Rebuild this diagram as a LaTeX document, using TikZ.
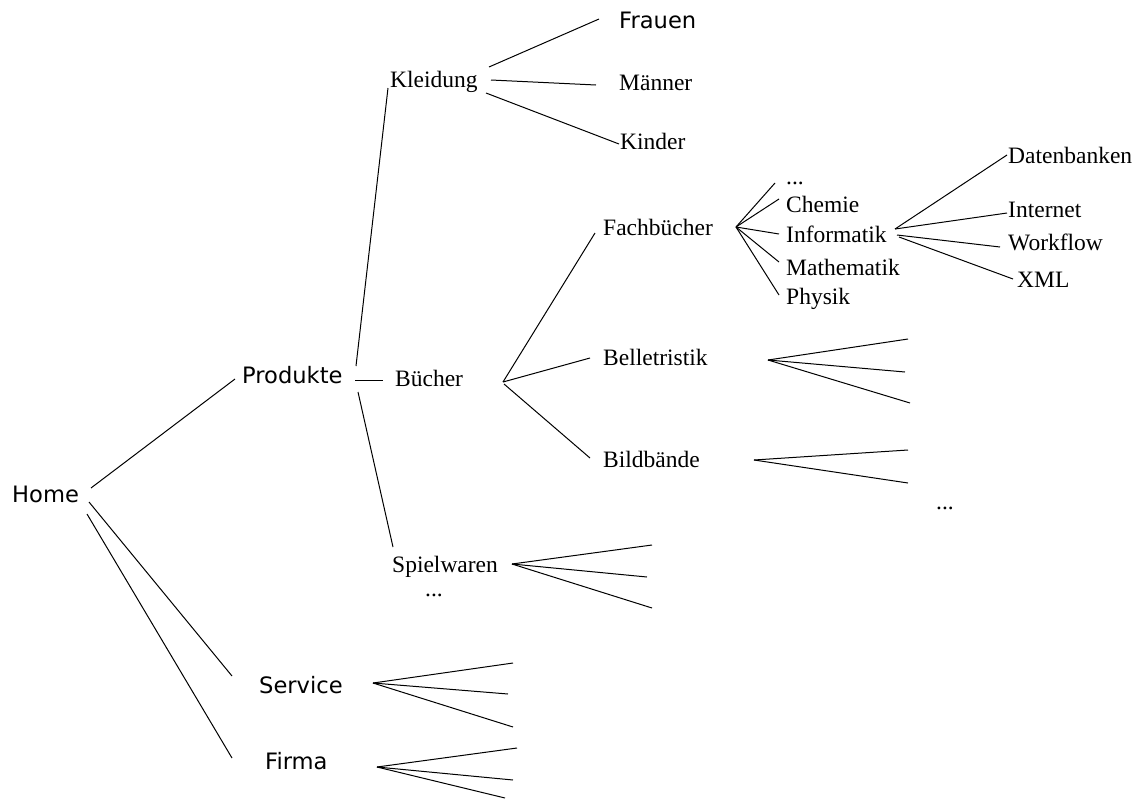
\documentclass[tikz,border=0pt]{standalone}
\usepackage{fontspec}
\setmainfont{Liberation Serif}
\newfontfamily\sansfam{DejaVu Sans}
\begin{document}
\begin{tikzpicture}[x=1pt,y=-1pt,
  lbl/.style={anchor=base west,inner sep=0pt,font=\fontsize{23.5}{28}\selectfont},
  slbl/.style={anchor=base west,inner sep=0pt,font=\sansfam\fontsize{22.6}{27}\selectfont},
  link/.style={line width=1pt,black}]
\useasboundingbox (0,0) rectangle (1141,809);

% --- labels ---
\node[slbl] (home)     at (12,502)  {Home};
\node[slbl] (produkte) at (242,383) {Produkte};
\node[slbl] (service)  at (259,693) {Service};
\node[slbl] (firma)    at (265,769) {Firma};
\node[slbl] (frauen)   at (619,28)  {Frauen};

\node[lbl] (kleidung)  at (390,87)  {Kleidung};
\node[lbl] (maenner)   at (619,90)  {Männer};
\node[lbl] (kinder)    at (620,149) {Kinder};
\node[lbl] (buecher)   at (395,386) {Bücher};
\node[lbl] (fach)      at (603,235) {Fachbücher};
\node[lbl] (fdots)     at (786,184) {...};
\node[lbl] (chemie)    at (786,212) {Chemie};
\node[lbl] (info)      at (786,242) {Informatik};
\node[lbl] (mathe)     at (786,275) {Mathematik};
\node[lbl] (physik)    at (786,304) {Physik};
\node[lbl] (daten)     at (1008,163) {Datenbanken};
\node[lbl] (internet)  at (1008,217) {Internet};
\node[lbl] (workflow)  at (1008,250) {Workflow};
\node[lbl] (xml)       at (1017,287) {XML};
\node[lbl] (belle)     at (603,365) {Belletristik};
\node[lbl] (bild)      at (603,467) {Bildbände};
\node[lbl] (bdots)     at (936,509) {...};
\node[lbl] (spiel)     at (392,572) {Spielwaren};
\node[lbl] (sdots)     at (425,596) {...};

% --- connection points ---
\coordinate (home-a) at (91,488);
\coordinate (home-b) at (89,502);
\coordinate (home-c) at (87,514);
\coordinate (produkte-in) at (235,379);
\coordinate (service-in)  at (232,676);
\coordinate (firma-in)    at (232,758);

\coordinate (produkte-a) at (356,366);
\coordinate (produkte-b) at (355,380);
\coordinate (produkte-c) at (358,392);
\coordinate (kleidung-in) at (388,88);
\coordinate (buecher-in)  at (383,380);
\coordinate (spiel-in)    at (393,547);

\coordinate (kleidung-a) at (489,67);
\coordinate (kleidung-b) at (491,80);
\coordinate (kleidung-c) at (486,93);
\coordinate (frauen-in)  at (599,19);
\coordinate (maenner-in) at (596,85);
\coordinate (kinder-in)  at (619,144);

\coordinate (buecher-a) at (503,382);
\coordinate (buecher-b) at (504,384);
\coordinate (fach-in)   at (595,233);
\coordinate (belle-in)  at (590,358);
\coordinate (bild-in)   at (590,458);

\coordinate (fach-out)  at (736,227);
\coordinate (fdots-in)  at (775,183);
\coordinate (chemie-in) at (779,199);
\coordinate (info-in)   at (779,234);
\coordinate (mathe-in)  at (779,262);
\coordinate (physik-in) at (779,295);

\coordinate (info-a) at (895,229);
\coordinate (info-b) at (897,235);
\coordinate (info-c) at (899,237);
\coordinate (daten-in)    at (1007,155);
\coordinate (internet-in) at (1007,213);
\coordinate (workflow-in) at (1000,247);
\coordinate (xml-in)      at (1013,279);

% --- tree edges ---
\draw[link] (home-a) -- (produkte-in);
\draw[link] (home-b) -- (service-in);
\draw[link] (home-c) -- (firma-in);

\draw[link] (produkte-a) -- (kleidung-in);
\draw[link] (produkte-b) -- (buecher-in);
\draw[link] (produkte-c) -- (spiel-in);

\draw[link] (kleidung-a) -- (frauen-in);
\draw[link] (kleidung-b) -- (maenner-in);
\draw[link] (kleidung-c) -- (kinder-in);

\draw[link] (buecher-a) -- (fach-in);
\draw[link] (buecher-a) -- (belle-in);
\draw[link] (buecher-b) -- (bild-in);

\foreach \t in {fdots-in,chemie-in,info-in,mathe-in,physik-in}
  \draw[link] (fach-out) -- (\t);

\draw[link] (info-a) -- (daten-in);
\draw[link] (info-a) -- (internet-in);
\draw[link] (info-b) -- (workflow-in);
\draw[link] (info-c) -- (xml-in);

% --- open fans of further subcategories ---
\coordinate (belle-out) at (768,360);
\foreach \px/\py [count=\i] in {908/339,905/372,910/403}{
  \coordinate (belle-leaf\i) at (\px,\py);
  \draw[link] (belle-out) -- (belle-leaf\i);}

\coordinate (bild-out) at (754,460);
\foreach \px/\py [count=\i] in {908/450,908/483}{
  \coordinate (bild-leaf\i) at (\px,\py);
  \draw[link] (bild-out) -- (bild-leaf\i);}

\coordinate (spiel-out) at (512,564);
\foreach \px/\py [count=\i] in {652/545,647/577,652/608}{
  \coordinate (spiel-leaf\i) at (\px,\py);
  \draw[link] (spiel-out) -- (spiel-leaf\i);}

\coordinate (service-out) at (373,683);
\foreach \px/\py [count=\i] in {513/663,508/694,513/727}{
  \coordinate (service-leaf\i) at (\px,\py);
  \draw[link] (service-out) -- (service-leaf\i);}

\coordinate (firma-out) at (377,767);
\foreach \px/\py [count=\i] in {517/748,513/780,505/798}{
  \coordinate (firma-leaf\i) at (\px,\py);
  \draw[link] (firma-out) -- (firma-leaf\i);}
\end{tikzpicture}
\end{document}
